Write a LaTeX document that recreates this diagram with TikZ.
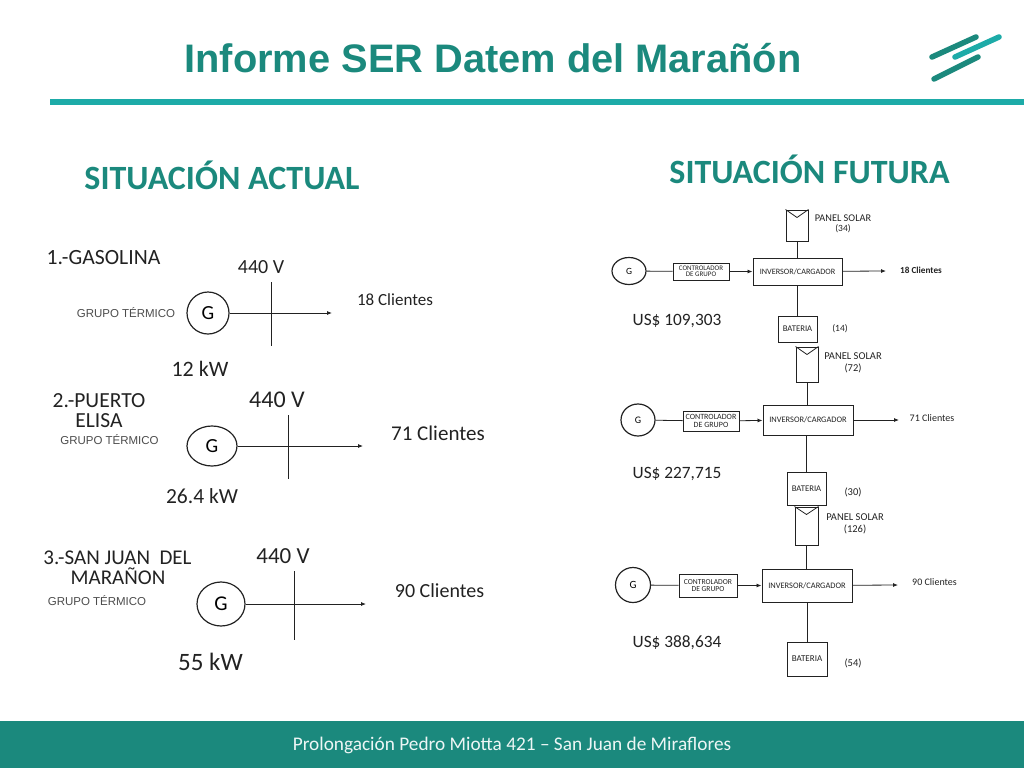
\documentclass[tikz,border=0pt]{standalone}
\usepackage{fontspec}
\setmainfont{Carlito}
\newfontfamily\arialf{Liberation Sans}
\usetikzlibrary{arrows.meta,shapes.geometric}
\definecolor{tealdark}{HTML}{1B897D}
\definecolor{teallight}{HTML}{1DABA8}
\definecolor{ink}{HTML}{222222}
\newcommand{\fs}[1]{\fontsize{#1}{#1}\selectfont}
\tikzset{
  lbl/.style={inner sep=0pt,text=ink,align=center},
  grupo/.style={inner sep=0pt,text=black!70,font=\arialf\fs{11.5}},
  head/.style={inner sep=0pt,text=tealdark,font=\bfseries\fs{34}},
  gen/.style={draw=ink,ellipse,inner sep=0pt,line width=1.2pt},
  box/.style={draw=ink,rectangle,inner sep=0pt,align=center,line width=1pt,text=ink},
  wire/.style={draw=ink,line width=0.8pt},
  feed/.style={wire,-{Latex[length=5pt,width=4pt]}},
  bus/.style={draw=ink,line width=0.7pt},
  bar/.style={line width=5.5pt,line cap=round},
}
\begin{document}
\begin{tikzpicture}[x=1pt,y=-1pt]
\useasboundingbox (0,0) rectangle (1024,768);
% frame
\fill[teallight] (50,99) rectangle (1024,105);
\fill[tealdark] (0,721) rectangle (1024,768);
\node[inner sep=0pt,text=tealdark,font=\arialf\bfseries\fs{39.8}] (title) at (493,58) {Informe SER Datem del Marañón};
\node[inner sep=0pt,text=white!92!tealdark,font=\fs{19.3}] (foot) at (512,745) {Prolongación Pedro Miotta 421 – San Juan de Miraflores};
\coordinate (l1a) at (932,57); \coordinate (l1b) at (976,37);
\coordinate (l2a) at (955,57); \coordinate (l2b) at (999,37);
\coordinate (l3a) at (934,79); \coordinate (l3b) at (978,57);
\draw[bar,tealdark] (l1a) -- (l1b);
\draw[bar,teallight] (l2a) -- (l2b);
\draw[bar,tealdark] (l3a) -- (l3b);
\node[head] (actual) at (222,175) {SITUACIÓN ACTUAL};
\node[head] (futura) at (809.5,169) {SITUACIÓN FUTURA};

% left 1
\node[lbl,font=\fs{21.7}] (t1) at (103.5,258) {1.-GASOLINA};
\node[grupo] (g1l) at (126,313) {GRUPO TÉRMICO};
\node[gen,minimum width=42pt,minimum height=42pt,font=\fs{20}] (G1) at (208,313) {G};
\coordinate (a1) at (332,313);
\coordinate (v1t) at (271,282); \coordinate (v1b) at (271,346);
\draw[feed] (G1) -- (a1);
\draw[bus] (v1t) -- (v1b);
\node[lbl,font=\fs{20}] (v1) at (261,267) {440 V};
\node[lbl,font=\fs{17}] (c1) at (395,300) {18 Clientes};
\node[lbl,font=\fs{22}] (k1) at (200,369) {12 kW};

% left 2
\node[lbl,font=\fs{21.5}] (t2a) at (99,401) {2.-PUERTO};
\node[lbl,font=\fs{21.5}] (t2b) at (99,421) {ELISA};
\node[grupo] (g2l) at (109.5,440) {GRUPO TÉRMICO};
\node[gen,minimum width=50pt,minimum height=40pt,font=\fs{20}] (G2) at (212,446) {G};
\coordinate (a2) at (363,446);
\coordinate (v2t) at (288,415); \coordinate (v2b) at (288,479);
\draw[feed] (G2) -- (a2);
\draw[bus] (v2t) -- (v2b);
\node[lbl,font=\fs{24}] (v2) at (277,400) {440 V};
\node[lbl,font=\fs{21}] (c2) at (438,433) {71 Clientes};
\node[lbl,font=\fs{21.5}] (k2) at (202,496) {26.4 kW};

% left 3
\node[lbl,font=\fs{21}] (t3a) at (117.5,558) {3.-SAN JUAN\ \ DEL};
\node[lbl,font=\fs{21}] (t3b) at (118,576) {MARAÑON};
\node[grupo] (g3l) at (97,601) {GRUPO TÉRMICO};
\node[gen,minimum width=48pt,minimum height=44pt,font=\fs{21}] (G3) at (221,604) {G};
\coordinate (a3) at (366,604);
\coordinate (v3t) at (294,571); \coordinate (v3b) at (294,640);
\draw[feed] (G3) -- (a3);
\draw[bus] (v3t) -- (v3b);
\node[lbl,font=\fs{23}] (v3) at (283,556) {440 V};
\node[lbl,font=\fs{20}] (c3) at (439.5,591) {90 Clientes};
\node[lbl,font=\fs{25}] (k3) at (210.5,662) {55 kW};

% right 1
\node[box,minimum width=22pt,minimum height=31pt] (p1) at (797,225.5) {};
\draw[wire] (p1.north west) -- ([yshift=-8pt]p1.north) -- (p1.north east);
\node[box,minimum width=89pt,minimum height=27pt,font=\fs{8.2}] (inv1) at (797.5,271.5) {INVERSOR/CARGADOR};
\node[box,minimum width=56pt,minimum height=17pt,font=\fs{7}] (ctl1) at (701,271.5) {CONTROLADOR\\[-0.5pt]DE GRUPO};
\node[gen,minimum width=34pt,minimum height=27pt,font=\fs{9.5}] (g1) at (629,271) {G};
\node[box,minimum width=39pt,minimum height=26pt,font=\fs{8.7}] (b1) at (797.5,329) {BATERIA};
\coordinate (o1) at (886,271);
\draw[wire] (g1) -- (ctl1);
\draw[feed] (ctl1) -- (inv1);
\draw[feed] (inv1) -- (o1);
\draw[wire] (p1) -- (p1 |- inv1.north);
\draw[wire] (inv1.south -| b1) -- (b1);
\node[lbl,font=\fs{10.3}] (pl1) at (843,218) {PANEL SOLAR};
\node[lbl,font=\fs{9.5}] (pn1) at (843,228.5) {(34)};
\node[lbl,font=\bfseries\fs{9.2}] (c4) at (921,270) {18 Clientes};
\node[lbl,font=\fs{9.5}] (bn1) at (840,329) {(14)};
\node[lbl,font=\fs{17.3}] (u1) at (677,320.5) {US\$ 109,303};

% right 2
\node[box,minimum width=22pt,minimum height=35pt] (p2) at (807,364.5) {};
\draw[wire] (p2.north west) -- ([yshift=-8pt]p2.north) -- (p2.north east);
\node[box,minimum width=90pt,minimum height=30pt,font=\fs{8.4}] (inv2) at (808,420) {INVERSOR/CARGADOR};
\node[box,minimum width=56pt,minimum height=20pt,font=\fs{8}] (ctl2) at (711,421) {CONTROLADOR\\[-0.5pt]DE GRUPO};
\node[gen,minimum width=34pt,minimum height=32pt,font=\fs{10}] (g2) at (638,420) {G};
\node[box,minimum width=39pt,minimum height=33pt,font=\fs{8.7}] (b2) at (806.5,488.5) {BATERIA};
\coordinate (o2) at (899,420);
\draw[wire] (g2) -- (ctl2);
\draw[feed] (ctl2) -- (inv2);
\draw[feed] (inv2) -- (o2);
\draw[wire] (p2) -- (p2 |- inv2.north);
\draw[wire] (inv2.south -| b2) -- (b2);
\node[lbl,font=\fs{10.5}] (pl2) at (853,356) {PANEL SOLAR};
\node[lbl,font=\fs{10.5}] (pn2) at (853,368) {(72)};
\node[lbl,font=\fs{10}] (c5) at (932,418) {71 Clientes};
\node[lbl,font=\fs{10.5}] (bn2) at (853,492) {(30)};
\node[lbl,font=\fs{17.3}] (u2) at (677,473.5) {US\$ 227,715};

% right 3
\node[box,minimum width=23pt,minimum height=38pt] (p3) at (806.5,526) {};
\draw[wire] (p3.north west) -- ([yshift=-8pt]p3.north) -- (p3.north east);
\node[box,minimum width=90pt,minimum height=33pt,font=\fs{8.4}] (inv3) at (807,585.5) {INVERSOR/CARGADOR};
\node[box,minimum width=58pt,minimum height=23pt,font=\fs{7.6}] (ctl3) at (708,585.5) {CONTROLADOR\\[-0.5pt]DE GRUPO};
\node[gen,minimum width=35pt,minimum height=35pt,font=\fs{11}] (g3) at (633,585) {G};
\node[box,minimum width=40pt,minimum height=34pt,font=\fs{9}] (b3) at (807,659) {BATERIA};
\coordinate (o3) at (898,585);
\draw[wire] (g3) -- (ctl3);
\draw[feed] (ctl3) -- (inv3);
\draw[feed] (inv3) -- (o3);
\draw[wire] (p3) -- (p3 |- inv3.north);
\draw[wire] (inv3.south -| b3) -- (b3);
\node[lbl,font=\fs{10.5}] (pl3) at (855,517) {PANEL SOLAR};
\node[lbl,font=\fs{10.5}] (pn3) at (855,529) {(126)};
\node[lbl,font=\fs{10}] (c6) at (934.5,582) {90 Clientes};
\node[lbl,font=\fs{10.5}] (bn3) at (853,663) {(54)};
\node[lbl,font=\fs{17.3}] (u3) at (677,642.5) {US\$ 388,634};
\end{tikzpicture}
\end{document}
